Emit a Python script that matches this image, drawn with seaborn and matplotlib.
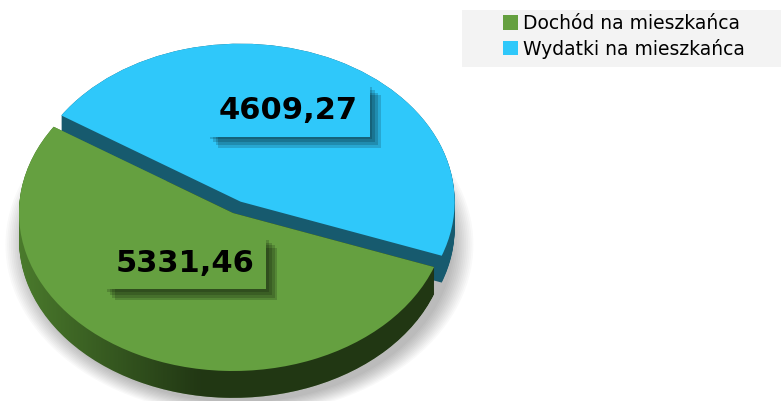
import matplotlib
matplotlib.use("Agg")

import numpy as np
import matplotlib.pyplot as plt
import seaborn as sns
from matplotlib import patheffects
from matplotlib.patches import Ellipse, Rectangle
from matplotlib.path import Path

# ---------------------------------------------------------------
# dane
# ---------------------------------------------------------------
categories = ["Dochód na mieszkańca", "Wydatki na mieszkańca"]
values = [5331.46, 4609.27]
top_colors = ["#65A040", "#2FC8FA"]
side_colors = ["#4A7A2C", "#175A6E"]
explode = [0.0, 0.08]

START_ANGLE = -20
DEPTH = 0.17
N_LAYERS = 30

sns.set_theme(style="white")
plt.rcParams["font.family"] = ["DejaVu Sans"]

fig = plt.figure(figsize=(7.81, 4.01), dpi=100)
fig.patch.set_facecolor("white")
ax = fig.add_axes([0, 0, 1, 1])

total = sum(values)


def fmt(pct):
    return f"{pct * total / 100:.2f}".replace(".", ",")


def pie_layer(dy, colors, zorders, **kw):
    res = ax.pie(
        values,
        colors=colors,
        explode=explode,
        startangle=START_ANGLE,
        counterclock=False,
        center=(0, dy),
        wedgeprops=dict(linewidth=0, antialiased=True),
        **kw,
    )
    for w, z in zip(res[0], zorders):
        w.set_zorder(z)
    return res


# miekki cien pod wykresem
for k in range(12):
    ax.add_patch(Ellipse((0.03, -0.2), 2.0 + 0.017 * k, 2.0 + 0.015 * k,
                         facecolor="black", edgecolor="none", alpha=0.022, zorder=0))

# boki (grubosc 3D)
green_side = []
for dy in np.linspace(-DEPTH, 0, N_LAYERS):
    wedges, _ = pie_layer(dy, side_colors, [3, 1])
    green_side.append(wedges[0])

# ciemniejszy gradient na boku zielonego wycinka (od lewej do prawej)
side_path = Path.make_compound_path(*[w.get_path() for w in green_side])
gx = np.linspace(-1.05, 1.1, 256)
grad = np.zeros((1, 256, 4))
grad[..., 3] = np.clip((gx + 1.0) / 0.85, 0, 1) * 0.55
im = ax.imshow(grad, extent=(-1.05, 1.1, -1.3, 0.2), aspect="auto", zorder=3.5,
               interpolation="bilinear")
im.set_clip_path(side_path, ax.transData)

# gorna powierzchnia
wedges, texts, autotexts = pie_layer(0, top_colors, [4, 2], autopct=fmt, pctdistance=0.5)

for t, c in zip(autotexts, top_colors):
    x, y = t.get_position()
    t.set_position((x, y + 0.13))
    t.set_fontsize(22)
    t.set_fontweight("bold")
    t.set_color("black")
    t.set_zorder(6)
    t.set_bbox(dict(boxstyle="square,pad=0.38", facecolor=c, edgecolor="none"))
    t.get_bbox_patch().set_path_effects(
        [patheffects.SimplePatchShadow(offset=(o, -o), shadow_rgbFace="black", alpha=0.16)
         for o in (8, 6, 4, 2)] + [patheffects.Normal()]
    )

ax.set_aspect("auto")
ax.set_xlim(-233 / 214, (781 - 233) / 214)
ax.set_ylim((213 - 401) / 158, 213 / 158)
ax.axis("off")

# legenda
fig.patches.append(Rectangle((462 / 781, 1 - 67 / 401), 319 / 781, 57 / 401,
                             transform=fig.transFigure, facecolor="#F3F3F3",
                             edgecolor="none", zorder=0))
leg = fig.legend(wedges, categories, loc="upper left", bbox_to_anchor=(503 / 781, 1 - 14 / 401),
                 frameon=False, fontsize=13.5, handlelength=0.8, handleheight=0.8,
                 handletextpad=0.25, labelspacing=0.3, borderpad=0, borderaxespad=0)
for txt in leg.get_texts():
    txt.set_color("black")

fig.savefig("out.png", dpi=100)
